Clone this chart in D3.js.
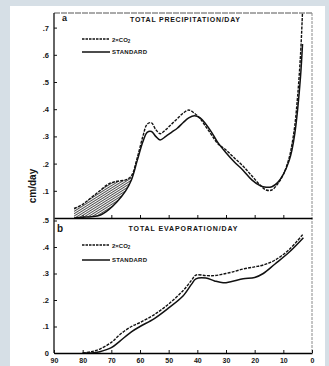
<!DOCTYPE html>
<html><head><meta charset="utf-8">
<script src="https://cdn.jsdelivr.net/npm/d3@7"></script>
<style>
html,body{margin:0;padding:0;background:#d6dfe6;}
svg{display:block;}
text{font-family:"Liberation Sans",Arial,sans-serif;fill:#151515;}
</style></head><body>
<svg id="c" width="329" height="366"></svg>
<script>
// ---------- data ----------
const latTicks = [90, 80, 70, 60, 50, 40, 30, 20, 10, 0];
const precipTicks = [0.1, 0.2, 0.3, 0.4, 0.5, 0.6, 0.7];
const evapTicks = [0, 0.1, 0.2, 0.3, 0.4, 0.5];
const seriesNames = ["2×CO₂", "STANDARD"];
const titles = ["TOTAL PRECIPITATION/DAY", "TOTAL EVAPORATION/DAY"];
const panelLetters = ["a", "b"];

const precipLat      = [83, 80, 77, 74, 71, 68, 65, 63, 61, 59, 57.5, 56, 54.5, 53, 51, 49, 47, 45, 43, 41, 39, 37, 35, 33, 30, 27, 24, 21, 18, 16, 14, 12, 10, 8, 7, 6, 5, 4, 3.3];
const precip2xCO2    = [0.035, 0.05, 0.075, 0.10, 0.125, 0.135, 0.14, 0.155, 0.22, 0.30, 0.345, 0.35, 0.325, 0.31, 0.325, 0.345, 0.365, 0.385, 0.397, 0.385, 0.365, 0.335, 0.305, 0.275, 0.25, 0.22, 0.19, 0.155, 0.12, 0.103, 0.103, 0.125, 0.16, 0.22, 0.27, 0.34, 0.45, 0.60, 0.76];
const precipStandard = [0.0, 0.003, 0.005, 0.01, 0.03, 0.06, 0.10, 0.14, 0.21, 0.28, 0.315, 0.318, 0.30, 0.287, 0.30, 0.315, 0.33, 0.35, 0.368, 0.376, 0.368, 0.345, 0.315, 0.28, 0.24, 0.205, 0.175, 0.14, 0.118, 0.113, 0.115, 0.13, 0.16, 0.21, 0.25, 0.31, 0.40, 0.52, 0.64];

const evapLat      = [80, 77, 74, 70, 67, 63, 60, 55, 50, 45, 42, 40.5, 37, 34, 31, 28, 24, 20, 17, 13, 8, 3];
const evap2xCO2    = [0.0, 0.005, 0.015, 0.04, 0.07, 0.10, 0.115, 0.145, 0.185, 0.235, 0.275, 0.294, 0.292, 0.292, 0.298, 0.305, 0.317, 0.325, 0.332, 0.35, 0.39, 0.45];
const evapStandard = [0.0, 0.0, 0.005, 0.02, 0.045, 0.08, 0.10, 0.13, 0.17, 0.215, 0.26, 0.28, 0.283, 0.272, 0.265, 0.27, 0.28, 0.285, 0.30, 0.335, 0.38, 0.435];

const hatchMinLat = 62;

// ---------- drawing ----------
const svg = d3.select("#c");
svg.append("rect").attr("x", 10).attr("y", 6).attr("width", 315).attr("height", 360).attr("fill", "#ffffff");

const defs = svg.append("defs");
const pat = defs.append("pattern").attr("id", "hatch").attr("patternUnits", "userSpaceOnUse")
  .attr("width", 6).attr("height", 2.0).attr("patternTransform", "rotate(-32)");
pat.append("line").attr("x1", 0).attr("y1", 0.5).attr("x2", 6).attr("y2", 0.5)
  .attr("stroke", "#222").attr("stroke-width", 0.8);

const x = d3.scaleLinear().domain([90, 0]).range([54, 312]);
const yA = d3.scaleLinear().domain([0, 0.7]).range([218, 27.6]);
const yB = d3.scaleLinear().domain([0, 0.5]).range([353, 220.5]);
const yTop = 13, yMid = 218, yBot = 353;

defs.append("clipPath").attr("id", "clipA").append("rect")
  .attr("x", 54).attr("y", yTop).attr("width", 258).attr("height", yMid - yTop);
defs.append("clipPath").attr("id", "clipB").append("rect")
  .attr("x", 54).attr("y", yMid).attr("width", 258).attr("height", yBot - yMid);

// frame
svg.append("line").attr("x1", 54).attr("x2", 312).attr("y1", yTop).attr("y2", yTop)
  .attr("stroke", "#555").attr("stroke-width", 1).attr("stroke-dasharray", "6,1");
svg.append("line").attr("x1", 312).attr("x2", 312).attr("y1", yTop).attr("y2", yBot)
  .attr("stroke", "#8a8a8a").attr("stroke-width", 1).attr("stroke-dasharray", "3,1");

const fmt = d => d === 0 ? "0" : "." + Math.round(d * 10);

const axA = svg.append("g").attr("transform", "translate(54,0)")
  .call(d3.axisLeft(yA).tickValues(precipTicks).tickFormat(fmt).tickSizeInner(-3).tickSizeOuter(0).tickPadding(5));
axA.select(".domain").remove();
const axB = svg.append("g").attr("transform", "translate(54,0)")
  .call(d3.axisLeft(yB).tickValues(evapTicks).tickFormat(fmt).tickSizeInner(-3).tickSizeOuter(0).tickPadding(5));
axB.select(".domain").remove();
svg.append("line").attr("x1", 54).attr("x2", 54).attr("y1", yTop).attr("y2", yBot)
  .attr("stroke", "#111").attr("stroke-width", 1.3);

const axMid = svg.append("g").attr("transform", `translate(0,${yMid})`)
  .call(d3.axisBottom(x).tickValues(latTicks.slice(1, -1)).tickFormat("").tickSizeInner(-3).tickSizeOuter(0));
axMid.select(".domain").attr("stroke-width", 1.3);
const axBot = svg.append("g").attr("transform", `translate(0,${yBot})`)
  .call(d3.axisBottom(x).tickValues(latTicks).tickSizeInner(-3).tickSizeOuter(0).tickPadding(5));
axBot.select(".domain").attr("stroke-width", 1.3);

svg.selectAll(".tick line").attr("stroke", "#111").attr("stroke-width", 1);
svg.selectAll(".tick text").attr("font-size", 7.5).attr("font-weight", "bold")
  .attr("font-family", "'Liberation Sans', Arial, sans-serif").attr("fill", "#151515");
axBot.selectAll(".tick text").attr("font-size", 7);

svg.append("text").attr("transform", "translate(36,186) rotate(-90)")
  .attr("text-anchor", "middle").attr("font-size", 10).attr("font-weight", "bold").text("cm/day");

const curve = d3.curveCatmullRom.alpha(0.5);
const lineA = d3.line().x(d => x(d[0])).y(d => yA(d[1])).curve(curve);
const lineB = d3.line().x(d => x(d[0])).y(d => yB(d[1])).curve(curve);

const pA2 = precipLat.map((l, i) => [l, precip2xCO2[i]]);
const pAS = precipLat.map((l, i) => [l, precipStandard[i]]);
const hatchData = precipLat.map((l, i) => ({ l, hi: precip2xCO2[i], lo: precipStandard[i] })).filter(d => d.l >= hatchMinLat);

const gA = svg.append("g").attr("clip-path", "url(#clipA)");
gA.append("path").datum(hatchData)
  .attr("d", d3.area().x(d => x(d.l)).y0(d => yA(d.lo)).y1(d => yA(d.hi)).curve(curve))
  .attr("fill", "url(#hatch)").attr("stroke", "none");
gA.append("path").datum(pAS).attr("d", lineA).attr("fill", "none")
  .attr("stroke", "#111").attr("stroke-width", 1.5);
gA.append("path").datum(pA2).attr("d", lineA).attr("fill", "none")
  .attr("stroke", "#111").attr("stroke-width", 1.4).attr("stroke-dasharray", "3,1.2");

const gB = svg.append("g").attr("clip-path", "url(#clipB)");
gB.append("path").datum(evapLat.map((l, i) => [l, evapStandard[i]])).attr("d", lineB)
  .attr("fill", "none").attr("stroke", "#111").attr("stroke-width", 1.5);
gB.append("path").datum(evapLat.map((l, i) => [l, evap2xCO2[i]])).attr("d", lineB)
  .attr("fill", "none").attr("stroke", "#111").attr("stroke-width", 1.4).attr("stroke-dasharray", "3,1.2");

svg.append("text").attr("x", 62).attr("y", 21).attr("font-size", 9).attr("font-weight", "bold").text(panelLetters[0]);
svg.append("text").attr("x", 57).attr("y", 232).attr("font-size", 10).attr("font-weight", "bold").text(panelLetters[1]);
svg.append("text").attr("x", 185).attr("y", 22).attr("text-anchor", "middle").attr("font-size", 7)
  .attr("font-weight", "bold").attr("textLength", 110).text(titles[0]);
svg.append("text").attr("x", 183).attr("y", 231).attr("text-anchor", "middle").attr("font-size", 7)
  .attr("font-weight", "bold").attr("textLength", 109).text(titles[1]);

function legend(y1, y2) {
  svg.append("line").attr("x1", 82).attr("x2", 110).attr("y1", y1).attr("y2", y1)
    .attr("stroke", "#111").attr("stroke-width", 1.3).attr("stroke-dasharray", "2.5,1");
  const t = svg.append("text").attr("x", 112).attr("y", y1 + 2.5).attr("font-size", 6).attr("font-weight", "bold");
  t.append("tspan").text("2×CO");
  t.append("tspan").attr("font-size", 4.5).attr("dy", 1.5).text("2");
  svg.append("line").attr("x1", 82).attr("x2", 110).attr("y1", y2).attr("y2", y2)
    .attr("stroke", "#111").attr("stroke-width", 1.5);
  svg.append("text").attr("x", 112).attr("y", y2 + 2.3).attr("font-size", 6).attr("font-weight", "bold")
    .attr("textLength", 35).text(seriesNames[1]);
}
legend(39, 52);
legend(245, 260);
</script>
</body></html>
